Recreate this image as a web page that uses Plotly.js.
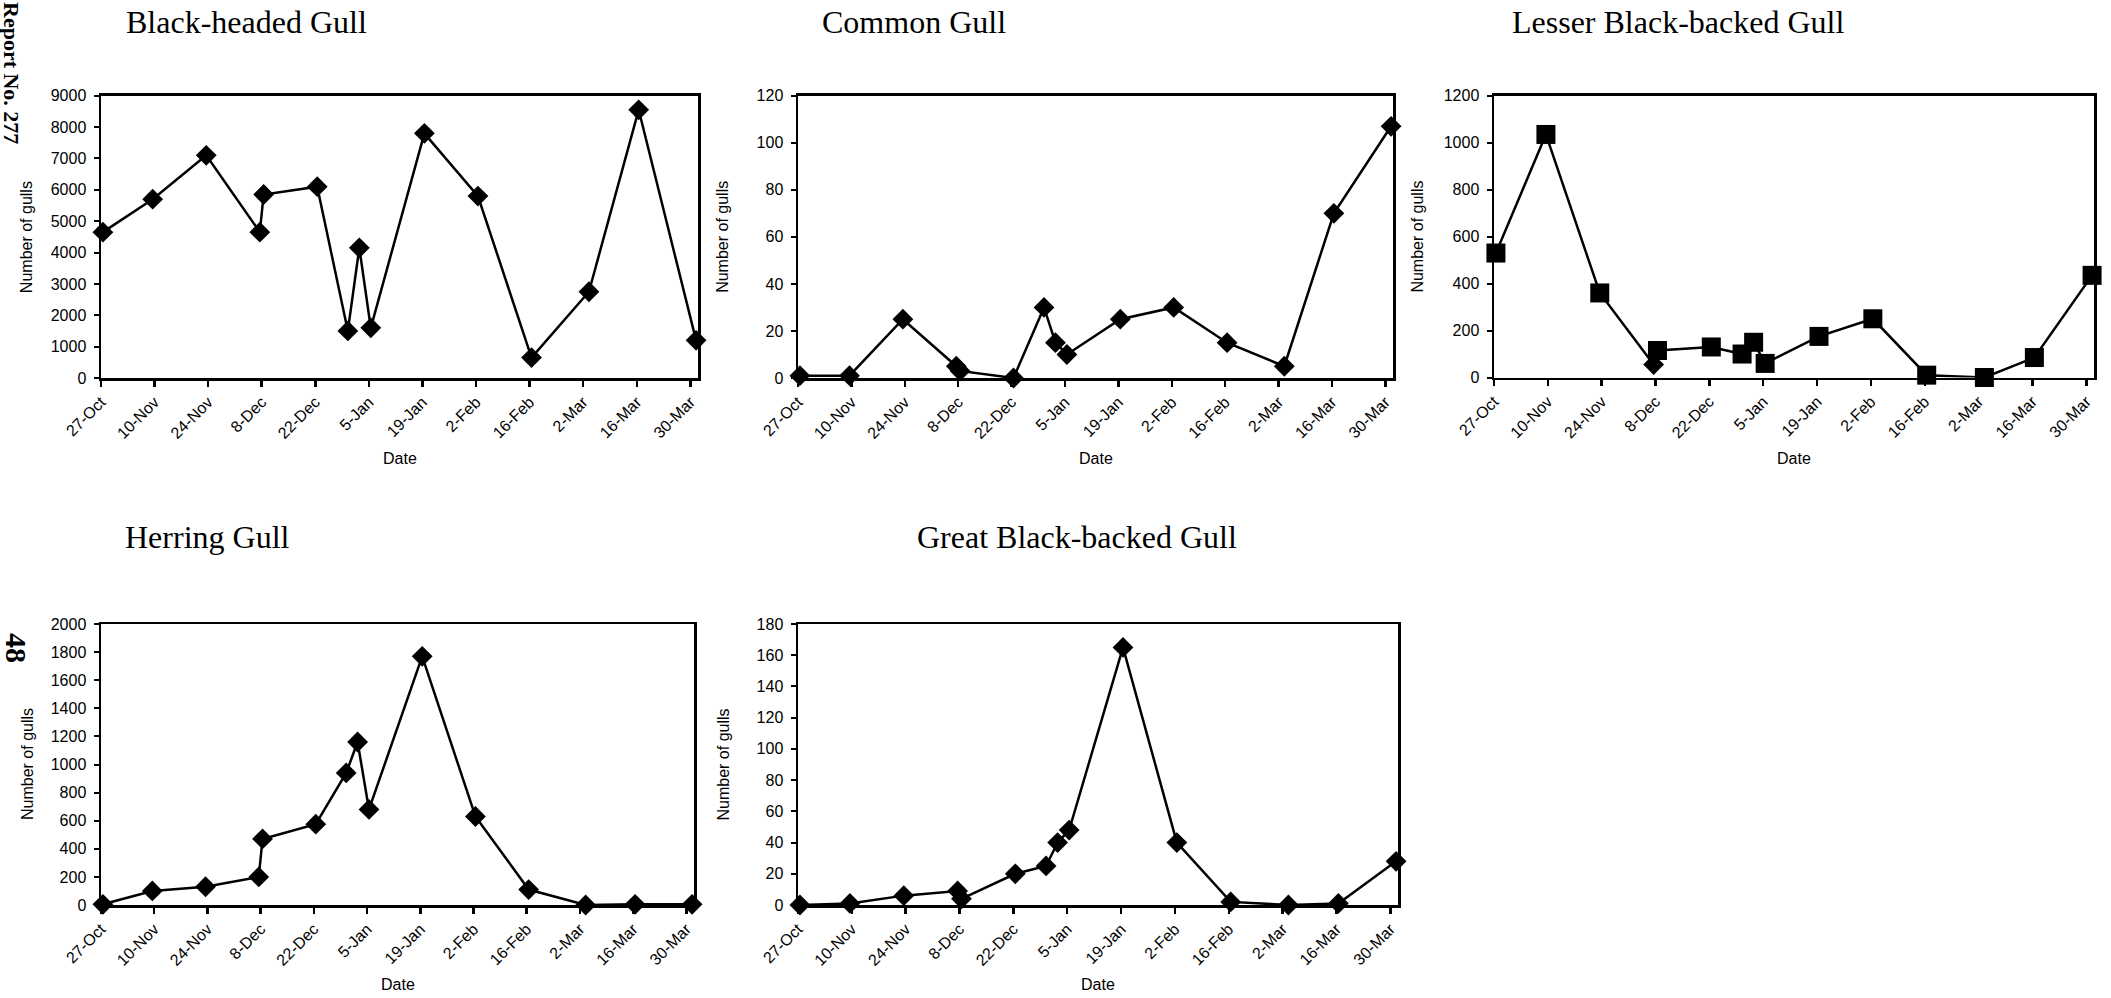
<!DOCTYPE html>
<html>
<head>
<meta charset="utf-8">
<script src="https://cdn.plot.ly/plotly-3.0.1.min.js"></script>
<style>
  html, body { margin: 0; padding: 0; background: #ffffff; }
  #chart { width: 2111px; height: 998px; }
</style>
</head>
<body>
<div id="chart"></div>
<script>
// ---- Data ----
const surveyDates = ['2006-10-27 12:00','2006-11-09 12:00','2006-11-23 12:00','2006-12-07 12:00','2006-12-08 12:00',
                     '2006-12-22 12:00','2006-12-30 12:00','2007-01-02 12:00','2007-01-05 12:00','2007-01-19 12:00',
                     '2007-02-02 12:00','2007-02-16 12:00','2007-03-03 12:00','2007-03-16 12:00','2007-03-31 12:00'];
const blackHeaded   = [4650, 5700, 7100, 4650, 5850, 6100, 1500, 4150, 1600, 7800, 5800, 650, 2750, 8550, 1200];
const commonGull    = [1, 1, 25, 5, 3, 0, 30, 15, 10, 25, 30, 15, 5, 70, 107];
const lesserBlack   = [530, 1035, 360, 55, 115, 130, 100, 150, 60, 175, 250, 10, 0, 85, 435];
const lesserSymbols = ['square','square','square','diamond','square','square','square','square','square','square','square','square','square','square','square'];
const herringGull   = [5, 100, 130, 200, 470, 575, 940, 1160, 680, 1770, 630, 110, 0, 5, 5];
const greatBlack    = [0, 1, 6, 9, 4, 20, 25, 40, 48, 165, 40, 2, 0, 1, 28];
const chartTitles   = ['Black-headed Gull','Common Gull','Lesser Black-backed Gull','Herring Gull','Great Black-backed Gull'];
const yMax          = [9000, 120, 1200, 2000, 180];
const yStep         = [1000, 20, 200, 200, 20];
const xRange        = ['2006-10-27', '2007-04-01'];
const tickStart     = '2006-10-27';
const yTitle        = 'Number of gulls';
const xTitle        = 'Date';

// ---- Layout geometry (pixels) ----
const W = 2111, H = 998;
const boxes = [
  {l: 101, r: 698,  t: 95.7, b: 378,  titleX: 124,  titleY: 22,  ytX: 27.3},
  {l: 798, r: 1393, t: 95.7, b: 378,  titleX: 820,  titleY: 22,  ytX: 723},
  {l: 1494, r: 2094, t: 95.7, b: 377.5, titleX: 1510, titleY: 22, ytX: 1418},
  {l: 101, r: 694,  t: 624,  b: 905,  titleX: 123,  titleY: 537, ytX: 27.5},
  {l: 798, r: 1398, t: 624,  b: 905,  titleX: 915,  titleY: 537, ytX: 723}
];
const dateY = [458, 458, 458, 984, 984];

const DIAMOND = 16, SQUARE = 19;
const series = [
  {y: blackHeaded, sym: 'diamond', size: DIAMOND},
  {y: commonGull,  sym: 'diamond', size: DIAMOND},
  {y: lesserBlack, sym: lesserSymbols, size: SQUARE},
  {y: herringGull, sym: 'diamond', size: DIAMOND},
  {y: greatBlack,  sym: 'diamond', size: DIAMOND}
];

const sans = 'Liberation Sans, Arial, sans-serif';
const serif = 'Liberation Serif, Times New Roman, serif';
const px = v => v / W;
const py = v => 1 - v / H;

const traces = [];
const layout = {
  width: W, height: H,
  margin: {l: 0, r: 0, t: 0, b: 0},
  paper_bgcolor: '#ffffff', plot_bgcolor: '#ffffff',
  showlegend: false,
  font: {family: sans, size: 16, color: '#000000'},
  annotations: [],
  shapes: []
};

series.forEach((s, i) => {
  const n = i === 0 ? '' : String(i + 1);
  const bx = boxes[i];
  const sizes = Array.isArray(s.sym) ? s.sym.map(v => v === 'diamond' ? DIAMOND : s.size) : s.size;
  traces.push({
    type: 'scatter', mode: 'lines+markers',
    x: surveyDates, y: s.y,
    xaxis: 'x' + n, yaxis: 'y' + n,
    line: {color: '#000000', width: 2.5},
    marker: {color: '#000000', symbol: s.sym, size: sizes, opacity: 1, line: {width: 0}},
    cliponaxis: false,
    hoverinfo: 'x+y'
  });
  layout['xaxis' + n] = {
    domain: [px(bx.l), px(bx.r)],
    anchor: 'y' + n,
    type: 'date',
    range: xRange,
    tick0: tickStart,
    dtick: 14 * 86400000,
    tickformat: '%-d-%b',
    tickangle: -45,
    ticks: 'outside', ticklen: 6, tickwidth: 2.5, tickcolor: '#000000',
    showline: true, linewidth: 2.5, linecolor: '#000000', mirror: true,
    showgrid: false, zeroline: false,
    tickfont: {family: sans, size: 16, color: '#000000'},
    fixedrange: true
  };
  layout['yaxis' + n] = {
    domain: [py(bx.b), py(bx.t)],
    anchor: 'x' + n,
    range: [0, yMax[i]],
    dtick: yStep[i], tick0: 0,
    ticks: 'outside', ticklen: 5, tickwidth: 2, tickcolor: '#000000',
    ticklabelstandoff: 4,
    showline: true, linewidth: 2.5, linecolor: '#000000', mirror: true,
    showgrid: false, zeroline: false,
    tickfont: {family: sans, size: 16, color: '#000000'},
    fixedrange: true
  };
  // chart title
  layout.annotations.push({
    xref: 'paper', yref: 'paper', x: px(bx.titleX), y: py(bx.titleY),
    xanchor: 'left', yanchor: 'middle', showarrow: false,
    text: chartTitles[i], font: {family: serif, size: 32, color: '#000000'}
  });
  // axis titles
  layout.annotations.push({
    xref: 'paper', yref: 'paper', x: px((bx.l + bx.r) / 2), y: py(dateY[i]),
    xanchor: 'center', yanchor: 'middle', showarrow: false,
    text: xTitle, font: {family: sans, size: 16, color: '#000000'}
  });
  layout.annotations.push({
    xref: 'paper', yref: 'paper', x: px(bx.ytX), y: py((bx.t + bx.b) / 2),
    xanchor: 'center', yanchor: 'middle', showarrow: false, textangle: -90,
    text: yTitle, font: {family: sans, size: 16, color: '#000000'}
  });
});

// page furniture (report margin text)
layout.annotations.push({
  xref: 'paper', yref: 'paper', x: px(12), y: py(146),
  xanchor: 'center', yanchor: 'bottom', showarrow: false, textangle: 90,
  text: '<b>Report No. 277</b>', font: {family: serif, size: 22, color: '#000000'}
});
layout.annotations.push({
  xref: 'paper', yref: 'paper', x: px(17), y: py(648),
  xanchor: 'center', yanchor: 'middle', showarrow: false, textangle: 90,
  text: '<b>48</b>', font: {family: serif, size: 30, color: '#000000'}
});

Plotly.newPlot('chart', traces, layout, {displayModeBar: false, staticPlot: true});
</script>
</body>
</html>
